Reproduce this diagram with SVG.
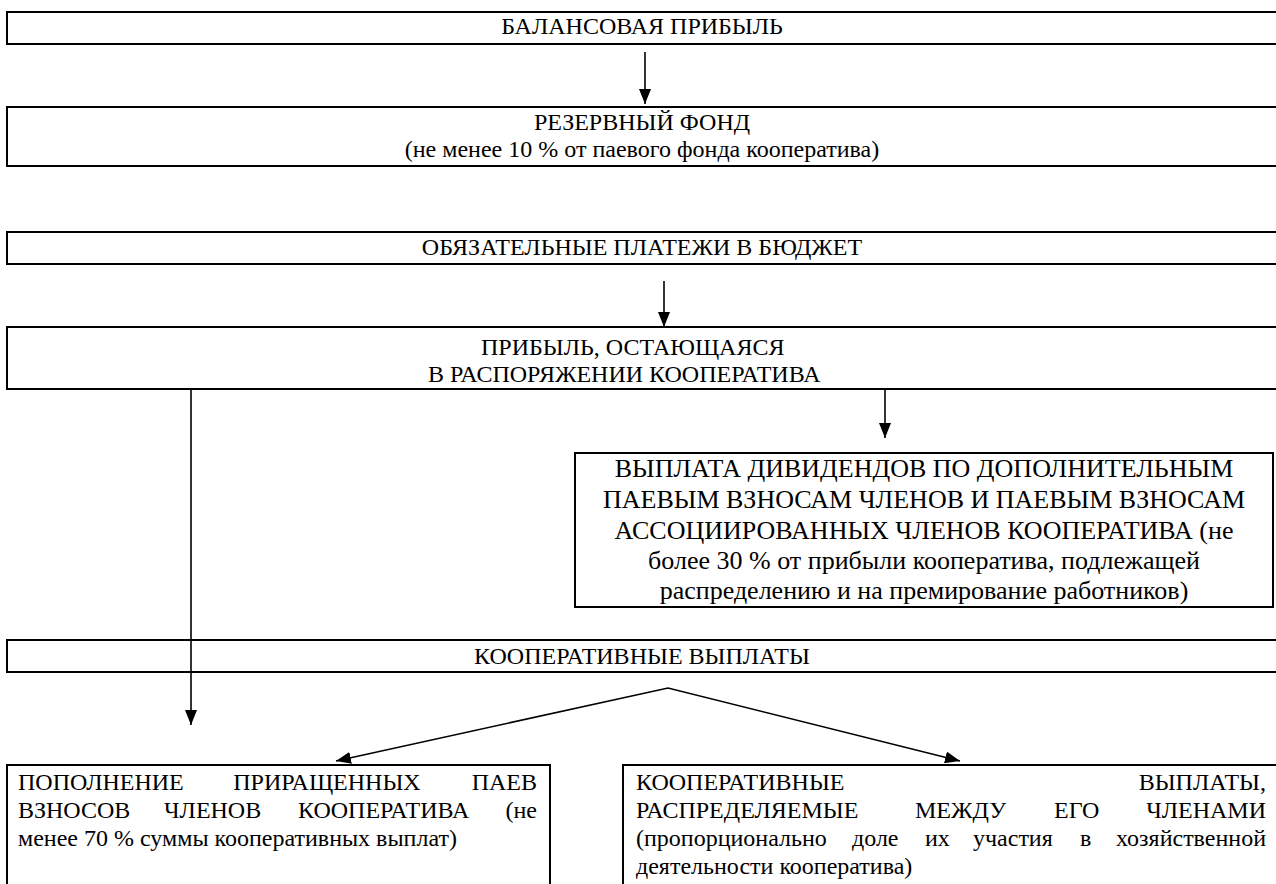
<svg xmlns="http://www.w3.org/2000/svg" width="1276" height="884" viewBox="0 0 1276 884">
<style>
.box{fill:#fff;stroke:#000;stroke-width:2}
.t{font-family:"Liberation Serif","Times New Roman",serif;font-size:24px;fill:#000}
.big{font-size:26px}
.c{text-anchor:middle}
.e{text-anchor:end}
.ln{fill:none;stroke:#000;stroke-width:1.6}
</style>
<defs>
<marker id="ah" viewBox="0 0 15 12" markerWidth="15" markerHeight="12" refX="15" refY="6" orient="auto-start-reverse" markerUnits="userSpaceOnUse">
<path d="M0,0 L15,6 L0,12 z" fill="#000"/>
</marker>
</defs>
<rect width="1276" height="884" fill="#fff"/>
<g id="n1"><rect class="box" x="7" y="12" width="1290" height="32"/>
<text class="t c" x="642" y="34">БАЛАНСОВАЯ ПРИБЫЛЬ</text></g>
<g id="n2"><rect class="box" x="7" y="107" width="1290" height="59"/>
<text class="t c" x="642" y="130">РЕЗЕРВНЫЙ ФОНД</text>
<text class="t c" x="642" y="157">(не менее 10 % от паевого фонда кооператива)</text></g>
<g id="n3"><rect class="box" x="7" y="232" width="1290" height="32"/>
<text class="t c" x="642" y="255">ОБЯЗАТЕЛЬНЫЕ ПЛАТЕЖИ В БЮДЖЕТ</text></g>
<g id="n4"><rect class="box" x="7" y="327" width="1290" height="62"/>
<text class="t" x="481" y="355">ПРИБЫЛЬ, ОСТАЮЩАЯСЯ</text>
<text class="t" x="428" y="382">В РАСПОРЯЖЕНИИ КООПЕРАТИВА</text></g>
<g id="n5"><rect class="box" x="575" y="453" width="698" height="154"/>
<text class="t big c" x="924" y="477">ВЫПЛАТА ДИВИДЕНДОВ ПО ДОПОЛНИТЕЛЬНЫМ</text>
<text class="t big c" x="924" y="508">ПАЕВЫМ ВЗНОСАМ ЧЛЕНОВ И ПАЕВЫМ ВЗНОСАМ</text>
<text class="t big c" x="924" y="539">АССОЦИИРОВАННЫХ ЧЛЕНОВ КООПЕРАТИВА (не</text>
<text class="t big c" x="924" y="569">более 30 % от прибыли кооператива, подлежащей</text>
<text class="t big c" x="924" y="599">распределению и на премирование работников)</text></g>
<g id="n6"><rect class="box" x="7" y="640" width="1290" height="32"/>
<text class="t c" x="642" y="664">КООПЕРАТИВНЫЕ ВЫПЛАТЫ</text></g>
<g id="n7"><rect class="box" x="7" y="765" width="543" height="140"/>
<text class="t" x="18" y="790">ПОПОЛНЕНИЕ</text>
<text class="t c" x="327" y="790">ПРИРАЩЕННЫХ</text>
<text class="t e" x="537" y="790">ПАЕВ</text>
<text class="t" x="18" y="818">ВЗНОСОВ</text>
<text class="t" x="164" y="818">ЧЛЕНОВ</text>
<text class="t" x="298" y="818">КООПЕРАТИВА</text>
<text class="t e" x="537" y="818">(не</text>
<text class="t" x="18" y="846">менее 70 % суммы кооперативных выплат)</text></g>
<g id="n8"><rect class="box" x="623" y="765" width="680" height="140"/>
<text class="t" x="636" y="790">КООПЕРАТИВНЫЕ</text>
<text class="t e" x="1266" y="790">ВЫПЛАТЫ,</text>
<text class="t" x="636" y="818">РАСПРЕДЕЛЯЕМЫЕ</text>
<text class="t" x="915" y="818">МЕЖДУ</text>
<text class="t" x="1054" y="818">ЕГО</text>
<text class="t e" x="1266" y="818">ЧЛЕНАМИ</text>
<text class="t" x="636" y="846">(пропорционально</text>
<text class="t" x="852" y="846">доле</text>
<text class="t" x="925" y="846">их</text>
<text class="t" x="973" y="846">участия</text>
<text class="t" x="1080" y="846">в</text>
<text class="t e" x="1266" y="846">хозяйственной</text>
<text class="t" x="636" y="874">деятельности кооператива)</text></g>
<g id="connectors">
<line class="ln" x1="645" y1="52" x2="645" y2="104" marker-end="url(#ah)"/>
<line class="ln" x1="664" y1="281" x2="664" y2="327" marker-end="url(#ah)"/>
<line class="ln" x1="885" y1="390" x2="885" y2="438" marker-end="url(#ah)"/>
<line class="ln" x1="191" y1="389" x2="191" y2="725" marker-end="url(#ah)"/>
<polyline class="ln" points="336,761 668,688 960,761" marker-start="url(#ah)" marker-end="url(#ah)"/>
</g>
</svg>
